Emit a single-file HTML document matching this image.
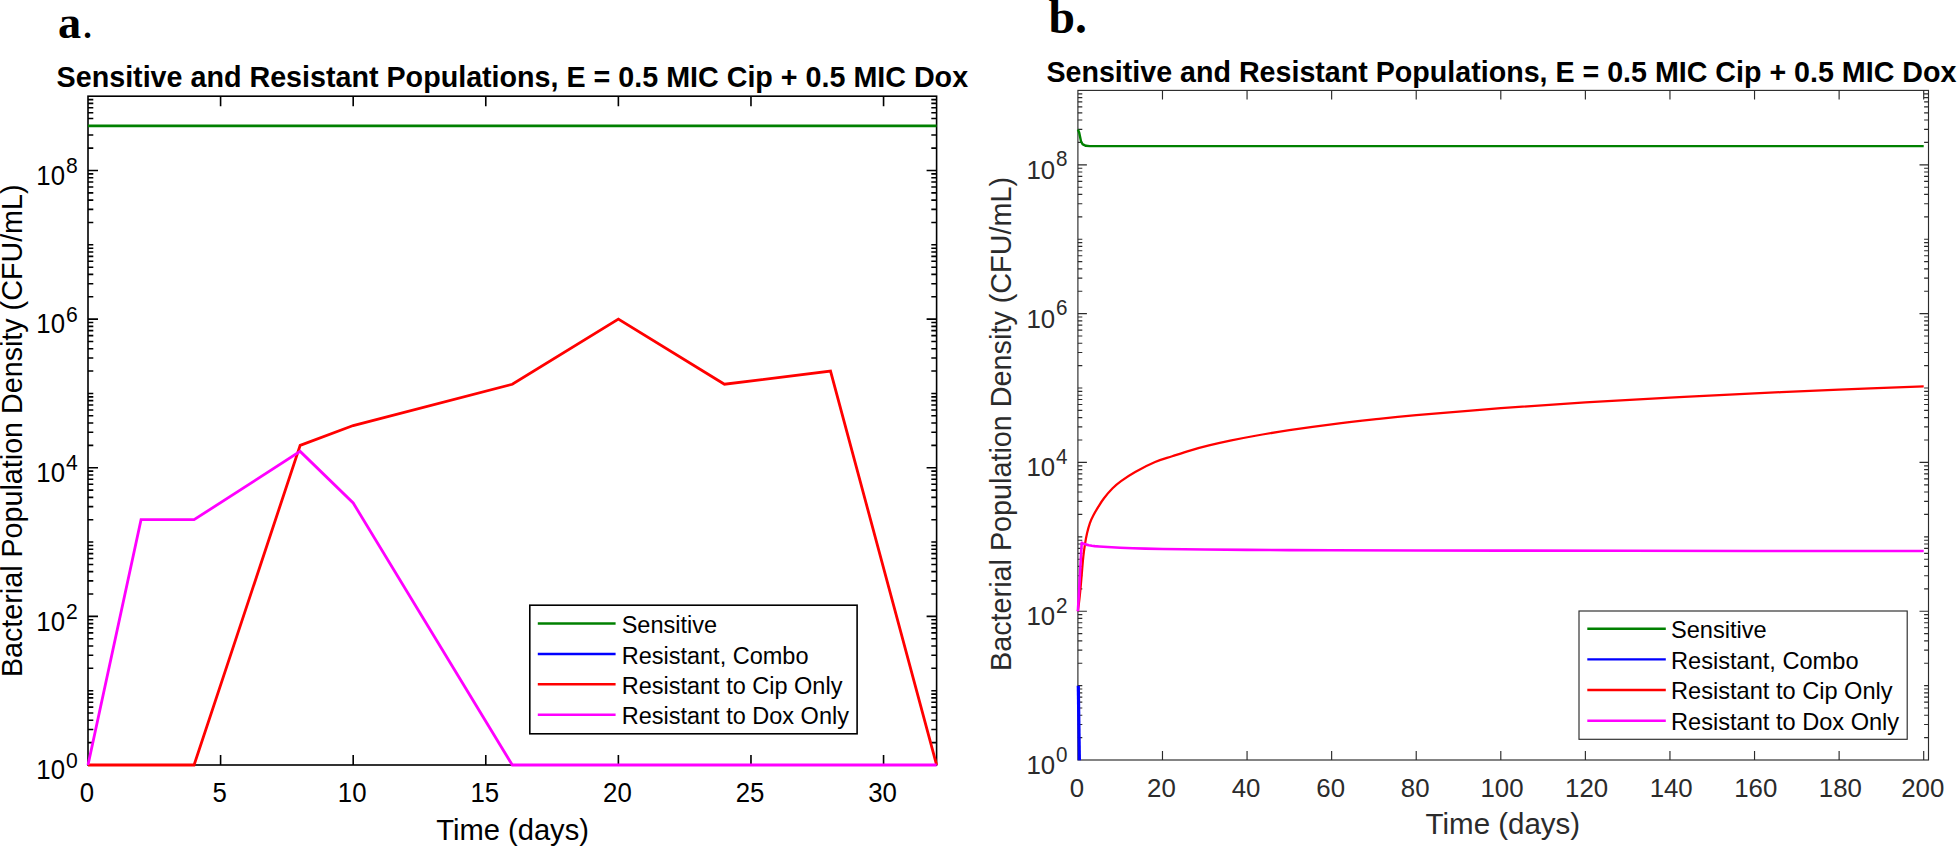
<!DOCTYPE html>
<html lang="en"><head><meta charset="utf-8"><title>Sensitive and Resistant Populations</title>
<style>html,body{margin:0;padding:0;background:#fff}body{width:1959px;height:846px;overflow:hidden}svg{display:block;font-family:"Liberation Sans",Arial,Helvetica,sans-serif}.ser{font-family:"Liberation Serif","Times New Roman",Times,serif;font-weight:bold}.nb{font-weight:normal}</style>
</head><body>
<svg width="1959" height="846" viewBox="0 0 1959 846">
<rect width="1959" height="846" fill="#fff"/>
<g id="panel-a">
<text class="ser" x="58" y="38.4" font-size="46.3">a<tspan class="nb" dx="0.6">.</tspan></text>
<text x="56.6" y="87.3" font-size="29.2" font-weight="bold" textLength="911.5" lengthAdjust="spacingAndGlyphs">Sensitive and Resistant Populations, E = 0.5 MIC Cip + 0.5 MIC Dox</text>
<rect x="88" y="96.2" width="848.6" height="668.8" fill="none" stroke="#000" stroke-width="1.6"/>
<path d="M220.59 765v-10M220.59 96.2v10M353.19 765v-10M353.19 96.2v10M485.78 765v-10M485.78 96.2v10M618.38 765v-10M618.38 96.2v10M750.97 765v-10M750.97 96.2v10M883.56 765v-10M883.56 96.2v10M88 742.63h5.3M936.6 742.63h-5.3M88 729.54h5.3M936.6 729.54h-5.3M88 720.26h5.3M936.6 720.26h-5.3M88 713.06h5.3M936.6 713.06h-5.3M88 707.17h5.3M936.6 707.17h-5.3M88 702.2h5.3M936.6 702.2h-5.3M88 697.89h5.3M936.6 697.89h-5.3M88 694.09h5.3M936.6 694.09h-5.3M88 690.69h5.3M936.6 690.69h-5.3M88 668.32h5.3M936.6 668.32h-5.3M88 655.23h5.3M936.6 655.23h-5.3M88 645.95h5.3M936.6 645.95h-5.3M88 638.75h5.3M936.6 638.75h-5.3M88 632.86h5.3M936.6 632.86h-5.3M88 627.89h5.3M936.6 627.89h-5.3M88 623.58h5.3M936.6 623.58h-5.3M88 619.78h5.3M936.6 619.78h-5.3M88 616.38h10M936.6 616.38h-10M88 594.01h5.3M936.6 594.01h-5.3M88 580.92h5.3M936.6 580.92h-5.3M88 571.64h5.3M936.6 571.64h-5.3M88 564.44h5.3M936.6 564.44h-5.3M88 558.55h5.3M936.6 558.55h-5.3M88 553.58h5.3M936.6 553.58h-5.3M88 549.27h5.3M936.6 549.27h-5.3M88 545.47h5.3M936.6 545.47h-5.3M88 542.07h5.3M936.6 542.07h-5.3M88 519.7h5.3M936.6 519.7h-5.3M88 506.61h5.3M936.6 506.61h-5.3M88 497.33h5.3M936.6 497.33h-5.3M88 490.13h5.3M936.6 490.13h-5.3M88 484.24h5.3M936.6 484.24h-5.3M88 479.27h5.3M936.6 479.27h-5.3M88 474.96h5.3M936.6 474.96h-5.3M88 471.16h5.3M936.6 471.16h-5.3M88 467.76h10M936.6 467.76h-10M88 445.39h5.3M936.6 445.39h-5.3M88 432.3h5.3M936.6 432.3h-5.3M88 423.02h5.3M936.6 423.02h-5.3M88 415.81h5.3M936.6 415.81h-5.3M88 409.93h5.3M936.6 409.93h-5.3M88 404.96h5.3M936.6 404.96h-5.3M88 400.65h5.3M936.6 400.65h-5.3M88 396.84h5.3M936.6 396.84h-5.3M88 393.44h5.3M936.6 393.44h-5.3M88 371.07h5.3M936.6 371.07h-5.3M88 357.99h5.3M936.6 357.99h-5.3M88 348.7h5.3M936.6 348.7h-5.3M88 341.5h5.3M936.6 341.5h-5.3M88 335.62h5.3M936.6 335.62h-5.3M88 330.64h5.3M936.6 330.64h-5.3M88 326.33h5.3M936.6 326.33h-5.3M88 322.53h5.3M936.6 322.53h-5.3M88 319.13h10M936.6 319.13h-10M88 296.76h5.3M936.6 296.76h-5.3M88 283.68h5.3M936.6 283.68h-5.3M88 274.39h5.3M936.6 274.39h-5.3M88 267.19h5.3M936.6 267.19h-5.3M88 261.31h5.3M936.6 261.31h-5.3M88 256.33h5.3M936.6 256.33h-5.3M88 252.02h5.3M936.6 252.02h-5.3M88 248.22h5.3M936.6 248.22h-5.3M88 244.82h5.3M936.6 244.82h-5.3M88 222.45h5.3M936.6 222.45h-5.3M88 209.37h5.3M936.6 209.37h-5.3M88 200.08h5.3M936.6 200.08h-5.3M88 192.88h5.3M936.6 192.88h-5.3M88 187h5.3M936.6 187h-5.3M88 182.02h5.3M936.6 182.02h-5.3M88 177.71h5.3M936.6 177.71h-5.3M88 173.91h5.3M936.6 173.91h-5.3M88 170.51h10M936.6 170.51h-10M88 148.14h5.3M936.6 148.14h-5.3M88 135.06h5.3M936.6 135.06h-5.3M88 125.77h5.3M936.6 125.77h-5.3M88 118.57h5.3M936.6 118.57h-5.3M88 112.69h5.3M936.6 112.69h-5.3M88 107.71h5.3M936.6 107.71h-5.3M88 103.4h5.3M936.6 103.4h-5.3M88 99.6h5.3M936.6 99.6h-5.3" fill="none" stroke="#000" stroke-width="1.6"/>
<g font-size="27.6" fill="#000">
<text transform="translate(87 802.4) scale(0.935 1)" text-anchor="middle">0</text>
<text transform="translate(219.59 802.4) scale(0.935 1)" text-anchor="middle">5</text>
<text transform="translate(352.19 802.4) scale(0.935 1)" text-anchor="middle">10</text>
<text transform="translate(484.78 802.4) scale(0.935 1)" text-anchor="middle">15</text>
<text transform="translate(617.38 802.4) scale(0.935 1)" text-anchor="middle">20</text>
<text transform="translate(749.97 802.4) scale(0.935 1)" text-anchor="middle">25</text>
<text transform="translate(882.56 802.4) scale(0.935 1)" text-anchor="middle">30</text>
<text transform="translate(77.7 779.2) scale(0.935 1)" text-anchor="end">10<tspan dx="1" dy="-11.7" font-size="22.6">0</tspan></text>
<text transform="translate(77.7 630.58) scale(0.935 1)" text-anchor="end">10<tspan dx="1" dy="-11.7" font-size="22.6">2</tspan></text>
<text transform="translate(77.7 481.96) scale(0.935 1)" text-anchor="end">10<tspan dx="1" dy="-11.7" font-size="22.6">4</tspan></text>
<text transform="translate(77.7 333.33) scale(0.935 1)" text-anchor="end">10<tspan dx="1" dy="-11.7" font-size="22.6">6</tspan></text>
<text transform="translate(77.7 184.71) scale(0.935 1)" text-anchor="end">10<tspan dx="1" dy="-11.7" font-size="22.6">8</tspan></text>
</g>
<text x="436.2" y="839.6" font-size="29" textLength="152.8" lengthAdjust="spacingAndGlyphs">Time (days)</text>
<text transform="translate(21.9 677.1) rotate(-90)" font-size="29" textLength="492.6" lengthAdjust="spacingAndGlyphs">Bacterial Population Density (CFU/mL)</text>
<g fill="none" stroke-width="2.8" stroke-linejoin="miter">
<path d="M88 125.93L936.6 125.93" stroke="#008000"/>
<path d="M88 765L194.07 765L300.15 445.39L353.19 425.53L512.3 384.24L618.38 319.13L724.45 384.24L830.52 371.07L936.6 765" stroke="#ff0000"/>
<path d="M88 765L141.04 519.7L194.07 519.7L300.15 451.4L353.19 502.95L512.3 765L936.6 765" stroke="#ff00ff"/>
</g>
<rect x="529.8" y="605.2" width="327.3" height="128.6" fill="#fff" stroke="#000" stroke-width="1.6"/>
<path d="M537.8 623.5H615.6" stroke="#008000" stroke-width="2.5" fill="none"/>
<path d="M537.8 653.9H615.6" stroke="#0000ff" stroke-width="2.5" fill="none"/>
<path d="M537.8 684.3H615.6" stroke="#ff0000" stroke-width="2.5" fill="none"/>
<path d="M537.8 714.8H615.6" stroke="#ff00ff" stroke-width="2.5" fill="none"/>
<g font-size="23.5" fill="#000">
<text x="621.7" y="633.1">Sensitive</text>
<text x="621.7" y="663.5">Resistant, Combo</text>
<text x="621.7" y="693.9">Resistant to Cip Only</text>
<text x="621.7" y="724.4">Resistant to Dox Only</text>
</g>
</g>
<g id="panel-b">
<text class="ser" x="1048.6" y="32.5" font-size="47.6">b.</text>
<text x="1046.4" y="81.8" font-size="29.2" font-weight="bold" textLength="910" lengthAdjust="spacingAndGlyphs">Sensitive and Resistant Populations, E = 0.5 MIC Cip + 0.5 MIC Dox</text>
<rect x="1077.9" y="90.4" width="850.6" height="669.6" fill="none" stroke="#2b2b2b" stroke-width="1.15"/>
<path d="M1162.48 760v-9M1162.48 90.4v9M1247.06 760v-9M1247.06 90.4v9M1331.64 760v-9M1331.64 90.4v9M1416.22 760v-9M1416.22 90.4v9M1500.8 760v-9M1500.8 90.4v9M1585.38 760v-9M1585.38 90.4v9M1669.96 760v-9M1669.96 90.4v9M1754.54 760v-9M1754.54 90.4v9M1839.12 760v-9M1839.12 90.4v9M1923.7 760v-9M1923.7 90.4v9M1077.9 737.6h4.4M1928.5 737.6h-4.4M1077.9 724.5h4.4M1928.5 724.5h-4.4M1077.9 715.21h4.4M1928.5 715.21h-4.4M1077.9 708h4.4M1928.5 708h-4.4M1077.9 702.11h4.4M1928.5 702.11h-4.4M1077.9 697.12h4.4M1928.5 697.12h-4.4M1077.9 692.81h4.4M1928.5 692.81h-4.4M1077.9 689h4.4M1928.5 689h-4.4M1077.9 685.6h4.4M1928.5 685.6h-4.4M1077.9 663.2h4.4M1928.5 663.2h-4.4M1077.9 650.1h4.4M1928.5 650.1h-4.4M1077.9 640.81h4.4M1928.5 640.81h-4.4M1077.9 633.6h4.4M1928.5 633.6h-4.4M1077.9 627.71h4.4M1928.5 627.71h-4.4M1077.9 622.72h4.4M1928.5 622.72h-4.4M1077.9 618.41h4.4M1928.5 618.41h-4.4M1077.9 614.6h4.4M1928.5 614.6h-4.4M1077.9 611.2h9M1928.5 611.2h-9M1077.9 588.8h4.4M1928.5 588.8h-4.4M1077.9 575.7h4.4M1928.5 575.7h-4.4M1077.9 566.41h4.4M1928.5 566.41h-4.4M1077.9 559.2h4.4M1928.5 559.2h-4.4M1077.9 553.31h4.4M1928.5 553.31h-4.4M1077.9 548.32h4.4M1928.5 548.32h-4.4M1077.9 544.01h4.4M1928.5 544.01h-4.4M1077.9 540.2h4.4M1928.5 540.2h-4.4M1077.9 536.8h4.4M1928.5 536.8h-4.4M1077.9 514.4h4.4M1928.5 514.4h-4.4M1077.9 501.3h4.4M1928.5 501.3h-4.4M1077.9 492.01h4.4M1928.5 492.01h-4.4M1077.9 484.8h4.4M1928.5 484.8h-4.4M1077.9 478.91h4.4M1928.5 478.91h-4.4M1077.9 473.92h4.4M1928.5 473.92h-4.4M1077.9 469.61h4.4M1928.5 469.61h-4.4M1077.9 465.8h4.4M1928.5 465.8h-4.4M1077.9 462.4h9M1928.5 462.4h-9M1077.9 440h4.4M1928.5 440h-4.4M1077.9 426.9h4.4M1928.5 426.9h-4.4M1077.9 417.61h4.4M1928.5 417.61h-4.4M1077.9 410.4h4.4M1928.5 410.4h-4.4M1077.9 404.51h4.4M1928.5 404.51h-4.4M1077.9 399.52h4.4M1928.5 399.52h-4.4M1077.9 395.21h4.4M1928.5 395.21h-4.4M1077.9 391.4h4.4M1928.5 391.4h-4.4M1077.9 388h4.4M1928.5 388h-4.4M1077.9 365.6h4.4M1928.5 365.6h-4.4M1077.9 352.5h4.4M1928.5 352.5h-4.4M1077.9 343.21h4.4M1928.5 343.21h-4.4M1077.9 336h4.4M1928.5 336h-4.4M1077.9 330.11h4.4M1928.5 330.11h-4.4M1077.9 325.12h4.4M1928.5 325.12h-4.4M1077.9 320.81h4.4M1928.5 320.81h-4.4M1077.9 317h4.4M1928.5 317h-4.4M1077.9 313.6h9M1928.5 313.6h-9M1077.9 291.2h4.4M1928.5 291.2h-4.4M1077.9 278.1h4.4M1928.5 278.1h-4.4M1077.9 268.81h4.4M1928.5 268.81h-4.4M1077.9 261.6h4.4M1928.5 261.6h-4.4M1077.9 255.71h4.4M1928.5 255.71h-4.4M1077.9 250.72h4.4M1928.5 250.72h-4.4M1077.9 246.41h4.4M1928.5 246.41h-4.4M1077.9 242.6h4.4M1928.5 242.6h-4.4M1077.9 239.2h4.4M1928.5 239.2h-4.4M1077.9 216.8h4.4M1928.5 216.8h-4.4M1077.9 203.7h4.4M1928.5 203.7h-4.4M1077.9 194.41h4.4M1928.5 194.41h-4.4M1077.9 187.2h4.4M1928.5 187.2h-4.4M1077.9 181.31h4.4M1928.5 181.31h-4.4M1077.9 176.32h4.4M1928.5 176.32h-4.4M1077.9 172.01h4.4M1928.5 172.01h-4.4M1077.9 168.2h4.4M1928.5 168.2h-4.4M1077.9 164.8h9M1928.5 164.8h-9M1077.9 142.4h4.4M1928.5 142.4h-4.4M1077.9 129.3h4.4M1928.5 129.3h-4.4M1077.9 120.01h4.4M1928.5 120.01h-4.4M1077.9 112.8h4.4M1928.5 112.8h-4.4M1077.9 106.91h4.4M1928.5 106.91h-4.4M1077.9 101.92h4.4M1928.5 101.92h-4.4M1077.9 97.61h4.4M1928.5 97.61h-4.4M1077.9 93.8h4.4M1928.5 93.8h-4.4" fill="none" stroke="#2b2b2b" stroke-width="1.15"/>
<g font-size="26.5" fill="#2b2b2b">
<text transform="translate(1076.9 797) scale(0.975 1)" text-anchor="middle">0</text>
<text transform="translate(1161.48 797) scale(0.975 1)" text-anchor="middle">20</text>
<text transform="translate(1246.06 797) scale(0.975 1)" text-anchor="middle">40</text>
<text transform="translate(1330.64 797) scale(0.975 1)" text-anchor="middle">60</text>
<text transform="translate(1415.22 797) scale(0.975 1)" text-anchor="middle">80</text>
<text transform="translate(1502 797) scale(0.975 1)" text-anchor="middle">100</text>
<text transform="translate(1586.58 797) scale(0.975 1)" text-anchor="middle">120</text>
<text transform="translate(1671.16 797) scale(0.975 1)" text-anchor="middle">140</text>
<text transform="translate(1755.74 797) scale(0.975 1)" text-anchor="middle">160</text>
<text transform="translate(1840.32 797) scale(0.975 1)" text-anchor="middle">180</text>
<text transform="translate(1922.7 797) scale(0.975 1)" text-anchor="middle">200</text>
<text transform="translate(1067.6 773.9) scale(0.975 1)" text-anchor="end">10<tspan dx="1" dy="-12.3" font-size="21.2">0</tspan></text>
<text transform="translate(1067.6 625.1) scale(0.975 1)" text-anchor="end">10<tspan dx="1" dy="-12.3" font-size="21.2">2</tspan></text>
<text transform="translate(1067.6 476.3) scale(0.975 1)" text-anchor="end">10<tspan dx="1" dy="-12.3" font-size="21.2">4</tspan></text>
<text transform="translate(1067.6 327.5) scale(0.975 1)" text-anchor="end">10<tspan dx="1" dy="-12.3" font-size="21.2">6</tspan></text>
<text transform="translate(1067.6 178.7) scale(0.975 1)" text-anchor="end">10<tspan dx="1" dy="-12.3" font-size="21.2">8</tspan></text>
</g>
<text x="1425.6" y="834" font-size="28.8" fill="#2b2b2b" textLength="154.6" lengthAdjust="spacingAndGlyphs">Time (days)</text>
<text transform="translate(1011 671) rotate(-90)" font-size="29.3" fill="#2b2b2b" textLength="494" lengthAdjust="spacingAndGlyphs">Bacterial Population Density (CFU/mL)</text>
<g fill="none" stroke-width="2.25" stroke-linejoin="round">
<path d="M1077.9 129.52L1079.17 132.47L1080.99 141.29L1082.43 144.06L1085.94 145.81L1089.74 146.17L1923.7 146.17" stroke="#008000" stroke-width="2.4"/>
<path d="M1077.9 611.2C1078.15 609.22 1078.89 603.65 1079.38 599.3C1079.87 594.94 1080.36 590.05 1080.82 585.09C1081.28 580.13 1081.71 574.27 1082.13 569.54C1082.54 564.8 1082.85 560.82 1083.31 556.66C1083.78 552.51 1084.31 548.48 1084.92 544.61C1085.53 540.74 1086.16 537.05 1086.99 533.45C1087.82 529.86 1088.84 526.07 1089.91 523.04C1090.98 520 1092 517.95 1093.42 515.22C1094.84 512.5 1096.65 509.51 1098.41 506.67C1100.17 503.83 1101.62 501.26 1103.99 498.19C1106.36 495.11 1109.78 491.07 1112.62 488.22C1115.46 485.36 1117.27 483.79 1121.04 481.07C1124.8 478.36 1129.53 475.1 1135.2 471.92C1140.88 468.75 1148.91 464.63 1155.08 462.03C1161.25 459.42 1166.39 458.21 1172.21 456.3C1178.02 454.39 1183.84 452.38 1189.97 450.57C1196.1 448.76 1202.3 447.1 1209 445.45C1215.69 443.8 1222.39 442.29 1230.14 440.67C1237.9 439.06 1245.65 437.5 1255.52 435.75C1265.39 434 1276.66 432.08 1289.35 430.19C1302.04 428.29 1317.54 426.16 1331.64 424.38C1345.74 422.59 1359.83 420.99 1373.93 419.47C1388.03 417.94 1395.08 417.11 1416.22 415.22C1437.37 413.34 1472.61 410.29 1500.8 408.15C1528.99 406.01 1557.19 404.16 1585.38 402.39C1613.57 400.62 1641.77 399.04 1669.96 397.54C1698.15 396.03 1726.35 394.66 1754.54 393.35C1782.73 392.04 1810.93 390.83 1839.12 389.67C1867.31 388.51 1909.6 386.94 1923.7 386.39" stroke="#ff0000"/>
<path d="M1077.9 611.2L1081.71 542.7L1082.97 543.37L1084.67 544.08L1086.36 544.62L1088.9 545.23L1091.86 545.73L1094.82 546.1L1099.05 546.5L1103.27 546.81L1111.73 547.31L1120.19 547.72L1132.88 548.2L1145.56 548.58L1162.48 548.97L1183.62 549.31L1204.77 549.56L1247.06 549.88L1289.35 550.09L1331.64 550.24L1416.22 550.46L1500.8 550.63L1627.67 550.81L1754.54 550.93L1923.7 551.04" stroke="#ff00ff" stroke-width="2.6"/>
<path d="M1078.3 685.8L1079.4 760.3" stroke="#0000ff" stroke-width="3.2"/>
</g>
<rect x="1579" y="611" width="328.2" height="128.3" fill="#fff" stroke="#2b2b2b" stroke-width="1.15"/>
<path d="M1587.3 628.8H1665.8" stroke="#008000" stroke-width="2.4" fill="none"/>
<path d="M1587.3 659.4H1665.8" stroke="#0000ff" stroke-width="2.4" fill="none"/>
<path d="M1587.3 690H1665.8" stroke="#ff0000" stroke-width="2.4" fill="none"/>
<path d="M1587.3 720.7H1665.8" stroke="#ff00ff" stroke-width="2.4" fill="none"/>
<g font-size="23.6" fill="#000">
<text x="1671" y="638.2">Sensitive</text>
<text x="1671" y="668.8">Resistant, Combo</text>
<text x="1671" y="699.4">Resistant to Cip Only</text>
<text x="1671" y="730.1">Resistant to Dox Only</text>
</g>
</g>
</svg></body></html>
